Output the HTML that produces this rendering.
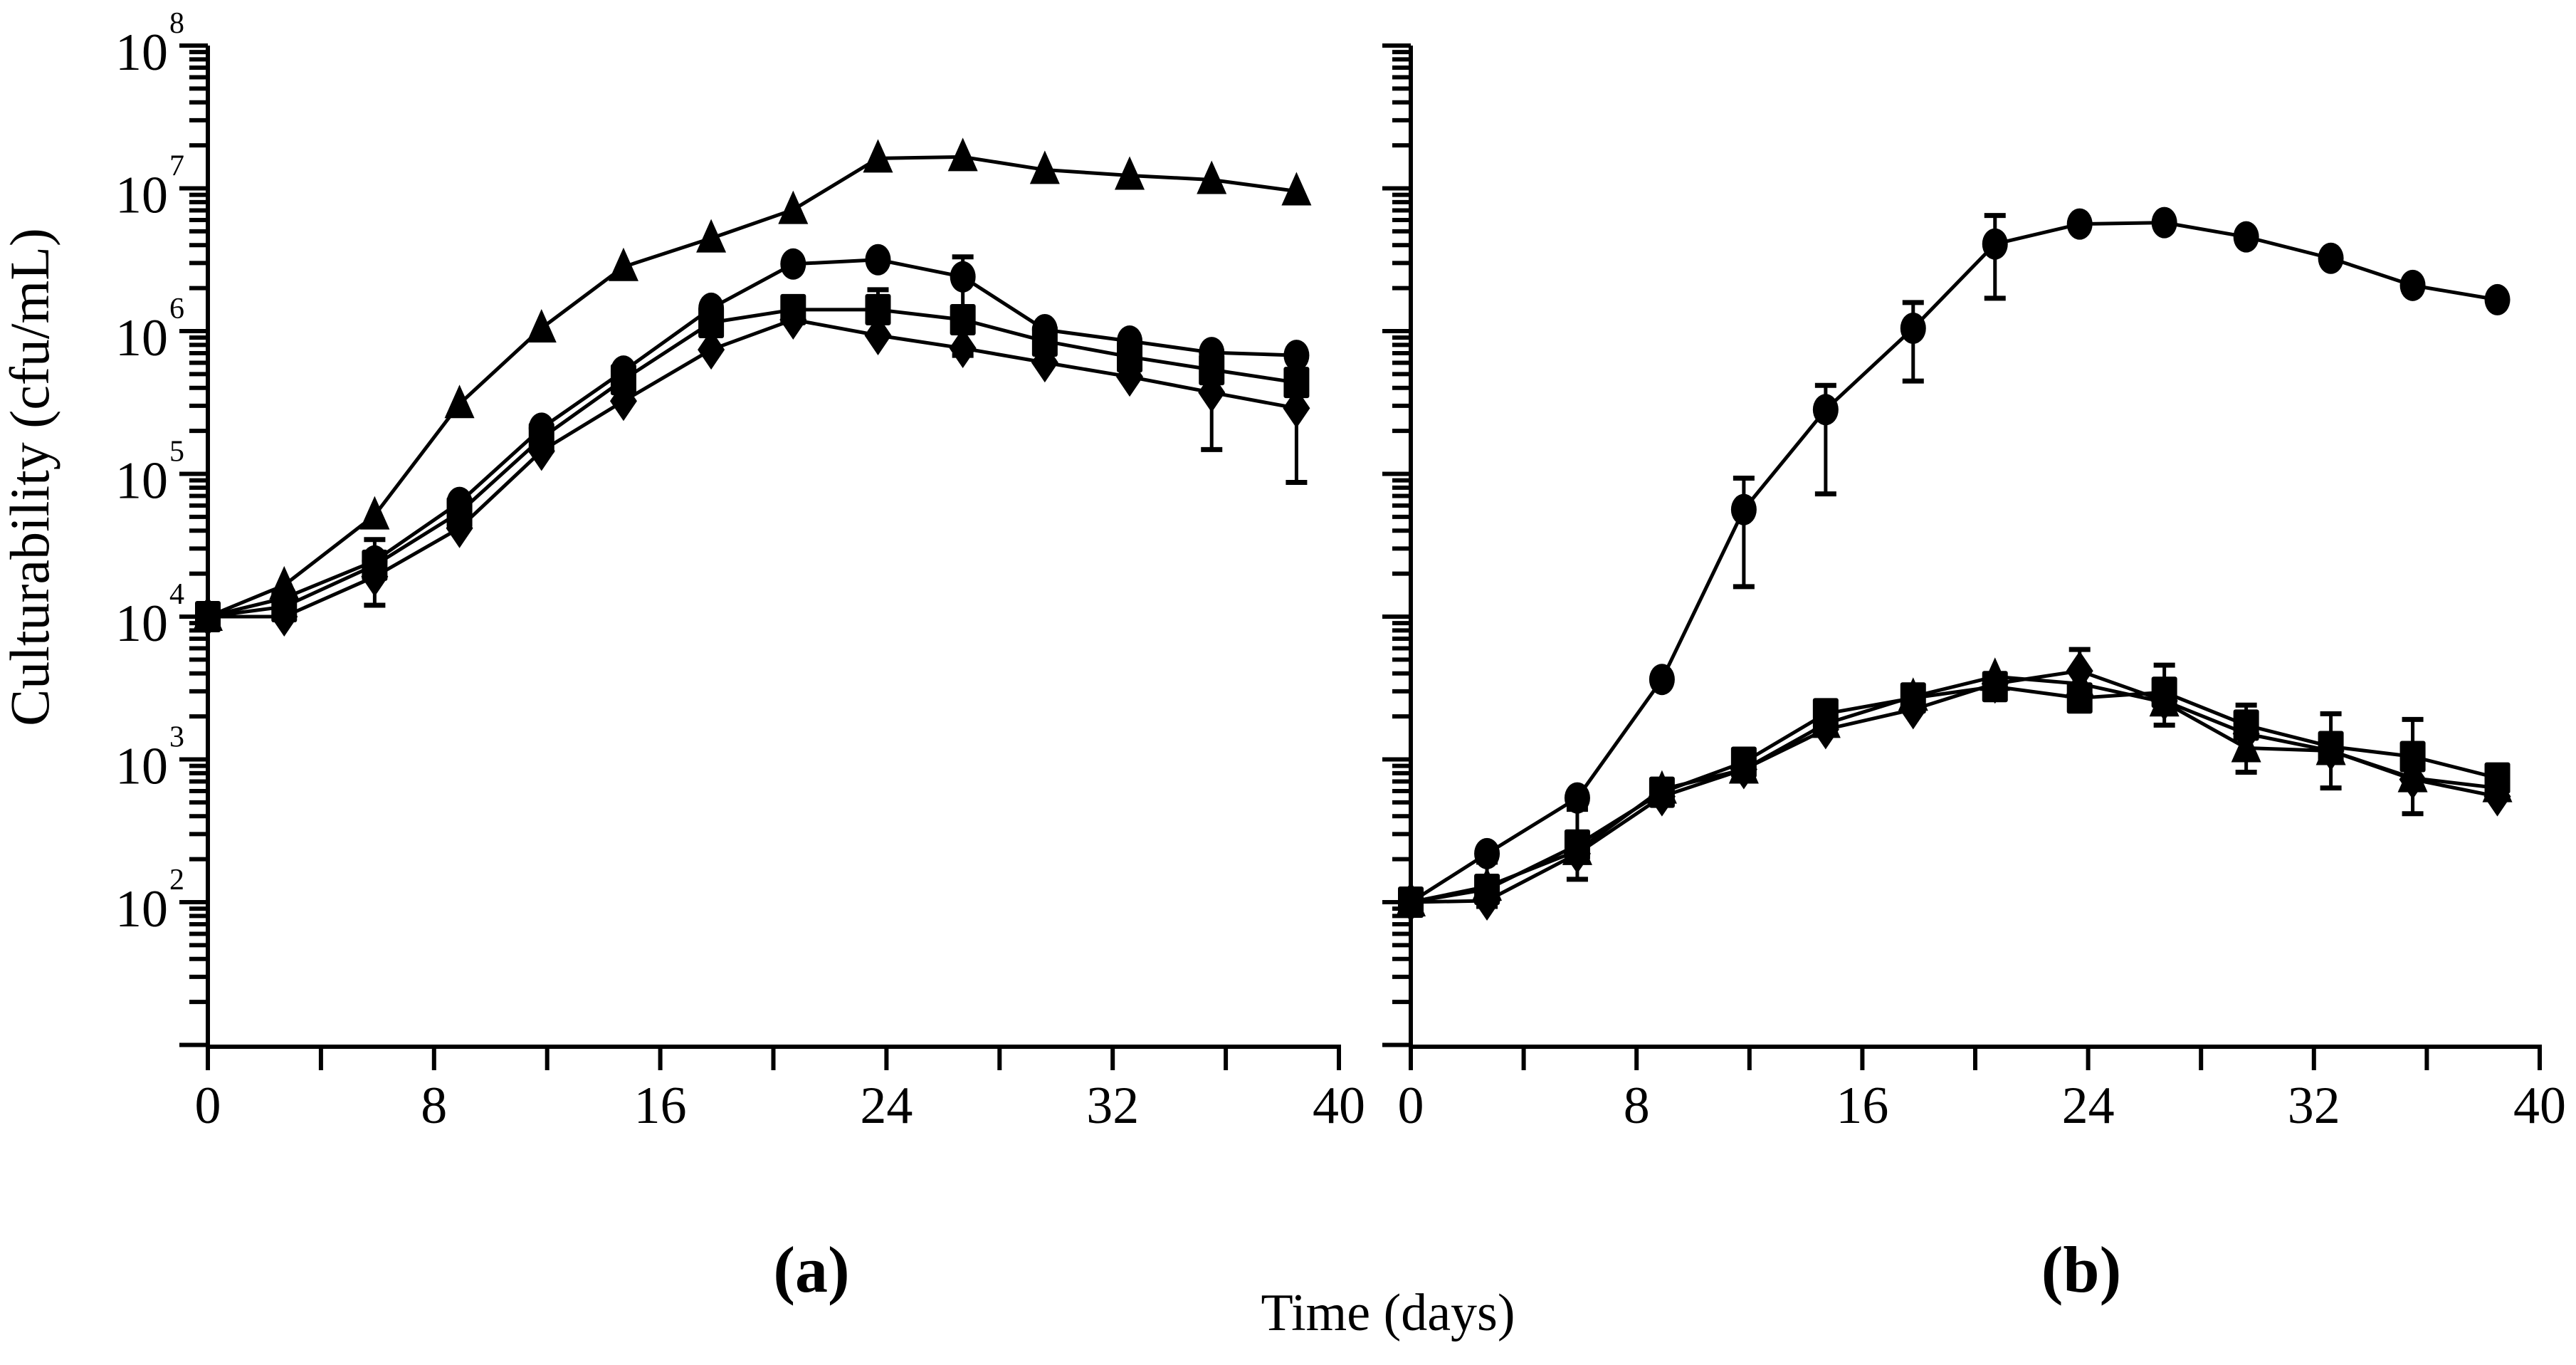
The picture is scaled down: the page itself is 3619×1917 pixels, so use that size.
<!DOCTYPE html>
<html><head><meta charset="utf-8"><style>
html,body{margin:0;padding:0;background:#fff;}
svg{display:block;font-family:"Liberation Serif",serif;}
</style></head><body>
<svg id="chart" width="3619" height="1917" viewBox="0 0 3619 1917" xmlns="http://www.w3.org/2000/svg">
<g id="root"></g>
<text x="0" y="0" transform="translate(68,670) rotate(-90)" text-anchor="middle" font-size="78">Culturability (cfu/mL)</text>
<text x="1950" y="1868" text-anchor="middle" font-size="74">Time (days)</text>
<text x="1140" y="1814" text-anchor="middle" font-size="92" font-weight="bold">(a)</text>
<text x="2924" y="1814" text-anchor="middle" font-size="92" font-weight="bold">(b)</text>
</svg>
<script>
const days = [0,2.7,5.9,8.9,11.8,14.7,17.8,20.7,23.7,26.7,29.6,32.6,35.5,38.5];
const xTickLabels = [0,8,16,24,32,40];
const yTickExponents = [2,3,4,5,6,7,8];
// log10(cfu/mL)
const aTriangle = [4.0,4.22,4.71,5.49,6.02,6.45,6.65,6.85,7.21,7.22,7.13,7.09,7.06,6.98];
const aCircle   = [4.0,4.13,4.39,4.80,5.32,5.72,6.16,6.47,6.50,6.38,6.01,5.93,5.85,5.83];
const aSquare   = [4.0,4.07,4.36,4.73,5.25,5.66,6.06,6.15,6.15,6.08,5.93,5.82,5.73,5.64];
const aDiamond  = [4.0,4.0,4.28,4.62,5.16,5.51,5.87,6.08,5.97,5.88,5.78,5.68,5.57,5.46];
const bCircle   = [2.0,2.34,2.73,3.56,4.75,5.45,6.02,6.61,6.75,6.76,6.66,6.51,6.32,6.22];
const bSquare   = [2.0,2.09,2.40,2.77,2.98,3.32,3.43,3.51,3.43,3.47,3.24,3.09,3.02,2.87];
const bTriangle = [2.0,2.11,2.36,2.79,2.93,3.25,3.44,3.58,3.53,3.40,3.08,3.06,2.87,2.80];
const bDiamond  = [2.0,2.01,2.34,2.74,2.93,3.21,3.35,3.53,3.62,3.41,3.18,3.06,2.86,2.74];
// error bars: [dayIndex, lowLog, highLog]
const aErrSquare = [[2,4.08,4.54],[8,5.98,6.29],[9,5.83,6.52]];
const aErrDiamond = [[12,5.17,5.72],[13,4.94,5.66]];
const bErrCircle = [[4,4.21,4.97],[5,4.86,5.62],[6,5.65,6.20],[7,6.23,6.81]];
const bErrSquare = [[1,1.97,2.28],[2,2.16,2.65],[8,3.38,3.77],[9,3.24,3.66],[10,2.91,3.38],[11,2.80,3.32],[12,2.62,3.28]];

const NS="http://www.w3.org/2000/svg";
const root=document.getElementById('root');
function mk(tag,attrs,parent){const e=document.createElementNS(NS,tag);for(const k in attrs)e.setAttribute(k,attrs[k]);(parent||root).appendChild(e);return e;}
const Y8=64, DEC=200.5, YBOT=1470;
function yS(l){return Y8+(8-l)*DEC;}
const panels=[{x0:292,x40:1881,name:'a',labels:true},{x0:1982,x40:3568,name:'b',labels:false}];
function xS(p,d){return p.x0+d*(p.x40-p.x0)/40;}

panels.forEach(p=>{
  const g=mk('g',{});
  
  
  const ya=mk('line',{x1:p.x0,y1:Y8,x2:p.x0,y2:YBOT+33,stroke:'#000','stroke-width':6},g);
  
  
  const xa=mk('line',{x1:p.x0-3,y1:YBOT,x2:p.x40+3,y2:YBOT,stroke:'#000','stroke-width':6},g);
  
  
  for(let e=1;e<=8;e++){
    for(let m=1;m<=9;m++){
      if(e===8&&m>1)break;
      const l=e+Math.log10(m);
      const yy=yS(l);
      if(yy>YBOT)continue;
      const len=(m===1)?40:26;
      const t=mk('line',{x1:p.x0-len,y1:yy,x2:p.x0,y2:yy,stroke:'#000','stroke-width':6},g);
      
      
    }
  }
  yTickExponents.forEach(e=>{
    if(!p.labels)return;
    const yy=yS(e);
    const t=mk('text',{x:p.x0-56,y:yy+34,'text-anchor':'end','font-size':74},g);
    t.textContent='10';
    
    
    const s=mk('text',{x:p.x0-54,y:yy-18,'font-size':42},g);
    s.textContent=String(e);
    
    
  });
  for(let d=4;d<=40;d+=4){
    const xx=xS(p,d);
    const t=mk('line',{x1:xx,y1:YBOT,x2:xx,y2:YBOT+33,stroke:'#000','stroke-width':6},g);
    
    
  }
  xTickLabels.forEach(v=>{
    const t=mk('text',{x:xS(p,v),y:1577,'text-anchor':'middle','font-size':74},g);
    t.textContent=String(v);
    
    
  });
});

function marker(shape,cx,cy,g){
  let e;
  if(shape==='circle')e=mk('ellipse',{cx:cx,cy:cy,rx:18,ry:22,fill:'#000'},g);
  else if(shape==='square')e=mk('rect',{x:cx-18,y:cy-22,width:36,height:44,rx:3,fill:'#000'},g);
  else if(shape==='triangle')e=mk('polygon',{points:`${cx},${cy-27} ${cx+21},${cy+20} ${cx-21},${cy+20}`,fill:'#000'},g);
  else e=mk('polygon',{points:`${cx},${cy-28} ${cx+19},${cy} ${cx},${cy+28} ${cx-19},${cy}`,fill:'#000'},g);
  
  
}
function series(p,vals,shape,name){
  const g=mk('g',{});
  
  
  const pts=vals.map((v,i)=>xS(p,days[i])+','+yS(v)).join(' ');
  const l=mk('polyline',{points:pts,fill:'none',stroke:'#000','stroke-width':5,'stroke-linejoin':'round'},g);
  
  
  vals.forEach((v,i)=>marker(shape,xS(p,days[i]),yS(v),g));
}
function errs(p,arr,name){
  const g=mk('g',{});
  
  
  arr.forEach(([i,lo,hi])=>{
    const xx=xS(p,days[i]);
    const a=mk('line',{x1:xx,y1:yS(lo),x2:xx,y2:yS(hi),stroke:'#000','stroke-width':5},g);
    
    
    [lo,hi].forEach(v=>{
      const c=mk('line',{x1:xx-15,y1:yS(v),x2:xx+15,y2:yS(v),stroke:'#000','stroke-width':7},g);
      
      
    });
  });
}
const A=panels[0],B=panels[1];
errs(A,aErrSquare,'a-square-errors');
errs(A,aErrDiamond,'a-diamond-errors');
errs(B,bErrCircle,'b-circle-errors');
errs(B,bErrSquare,'b-square-errors');
series(A,aTriangle,'triangle','a-triangle-series');
series(A,aCircle,'circle','a-circle-series');
series(A,aSquare,'square','a-square-series');
series(A,aDiamond,'diamond','a-diamond-series');
series(B,bCircle,'circle','b-circle-series');
series(B,bTriangle,'triangle','b-triangle-series');
series(B,bDiamond,'diamond','b-diamond-series');
series(B,bSquare,'square','b-square-series');
</script>
</body></html>
